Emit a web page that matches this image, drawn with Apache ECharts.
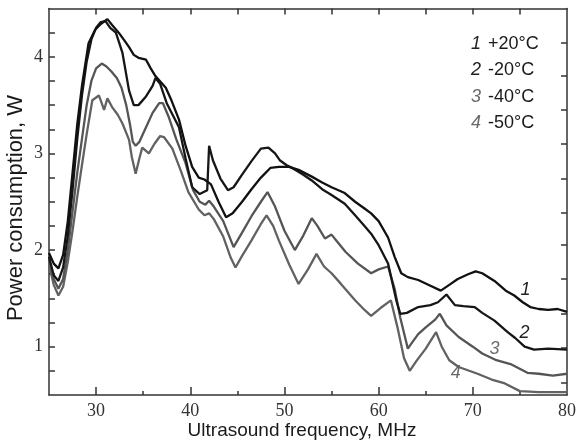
<!DOCTYPE html>
<html><head><meta charset="utf-8">
<script src="https://cdn.jsdelivr.net/npm/echarts@6/dist/echarts.min.js"></script>
<style>html,body{margin:0;padding:0;background:#fff}#c{width:579px;height:441px}</style>
</head><body><div id="c"></div>
<script>
// Tick labels / tick positions
const xLabels = [30, 40, 50, 60, 70, 80];
const xMajorTicks = [30, 40, 50, 60, 70];
const xMinorTicks = [35, 45, 55, 65, 75];
const xTopTicks = [30, 35, 40, 45, 50, 55, 60, 65, 70, 75];
const yLabels = [1, 2, 3, 4];
const yLeftTicks = [0.75, 1, 1.25, 1.5, 1.75, 2, 2.25, 2.5, 2.75, 3, 3.25, 3.5, 3.75, 4, 4.25];
const yRightTicks = [0.63, 0.99, 1.34, 1.70, 2.05, 2.39, 2.74, 3.10, 3.45, 3.80, 4.15];

// Titles, series names and legend
const xTitle = 'Ultrasound frequency, MHz';
const yTitle = 'Power consumption, W';
const seriesNums = ['1', '2', '3', '4'];
const seriesNames = ['+20°C', '-20°C', '-40°C', '-50°C'];

// Curves: [frequency MHz, power W]
const curve1 = [[25,1.97],[25.5,1.86],[26,1.81],[26.5,1.95],[27,2.3],[27.5,2.8],[28,3.3],[28.5,3.7],[29.2,4.14],[29.9,4.28],[30.5,4.34],[31.2,4.39],[31.7,4.33],[32.4,4.25],[33,4.17],[33.5,4.1],[34,4.02],[34.5,3.99],[35.3,3.97],[35.8,3.88],[36.3,3.8],[37.4,3.68],[38,3.55],[38.8,3.35],[39.5,3.08],[40.2,2.86],[40.9,2.75],[41.5,2.73],[42.2,2.68],[43,2.5],[43.8,2.34],[44.5,2.38],[45.5,2.5],[46.5,2.63],[47.5,2.75],[48.5,2.85],[49.4,2.86],[50.5,2.86],[51.5,2.83],[52.9,2.76],[54,2.7],[55,2.65],[56.4,2.59],[57.5,2.5],[58.5,2.43],[59.2,2.38],[60,2.3],[61,2.13],[61.7,1.93],[62.4,1.76],[63.1,1.72],[64.2,1.69],[65.5,1.63],[66.6,1.58],[67.5,1.64],[68.4,1.7],[69.5,1.75],[70.3,1.78],[71,1.76],[72.3,1.68],[73.5,1.58],[74.4,1.53],[75.3,1.46],[76.1,1.41],[77,1.39],[78,1.38],[79,1.39],[80,1.36]];
const curve2 = [[25,1.93],[25.5,1.74],[26,1.68],[26.5,1.82],[27,2.15],[27.5,2.62],[28,3.15],[28.5,3.6],[29,3.95],[29.5,4.18],[30,4.3],[30.5,4.36],[31,4.37],[31.5,4.3],[32.1,4.25],[32.8,4.04],[33.5,3.65],[34,3.5],[34.5,3.5],[35.3,3.59],[36,3.7],[36.3,3.78],[36.8,3.72],[37.5,3.52],[38.8,3.27],[39.5,2.95],[40.2,2.65],[41,2.58],[41.8,2.62],[42,3.08],[42.4,2.93],[43.2,2.74],[44,2.62],[44.6,2.65],[45.5,2.78],[46.5,2.92],[47.5,3.05],[48.3,3.06],[49,3.0],[49.5,2.93],[50.2,2.88],[51,2.84],[52,2.78],[52.9,2.72],[54,2.63],[55,2.57],[56.4,2.48],[57.5,2.36],[58.5,2.25],[59.2,2.17],[60,2.05],[61,1.86],[61.9,1.47],[62.3,1.34],[63,1.35],[64.2,1.41],[65.5,1.43],[66.3,1.46],[67.2,1.54],[68.1,1.43],[69,1.42],[70.2,1.41],[71,1.35],[72.3,1.27],[73.7,1.15],[74.5,1.09],[75.5,1.0],[76.5,0.97],[78,0.98],[80,0.97]];
const curve3 = [[25,1.9],[25.5,1.7],[26,1.6],[26.5,1.7],[27,2.0],[27.5,2.4],[28,2.8],[28.5,3.15],[29,3.5],[29.5,3.75],[30,3.88],[30.6,3.93],[31.1,3.9],[31.6,3.85],[32.2,3.78],[32.7,3.68],[33.2,3.5],[33.6,3.3],[33.9,3.12],[34.2,3.08],[34.6,3.12],[35.3,3.27],[36,3.42],[36.7,3.52],[37.1,3.52],[37.7,3.38],[38.5,3.15],[39.5,2.9],[40.3,2.62],[41,2.5],[41.6,2.47],[42,2.51],[42.5,2.45],[43.5,2.3],[44.6,2.03],[45.5,2.18],[46.5,2.35],[47.5,2.5],[48.2,2.6],[49,2.45],[50,2.2],[51.1,2.0],[52,2.15],[52.9,2.33],[53.5,2.25],[54.3,2.12],[55,2.16],[55.5,2.1],[56.5,1.98],[57.8,1.86],[59.2,1.76],[60,1.8],[61,1.83],[61.7,1.6],[62.3,1.3],[63.1,0.98],[63.6,1.05],[64.2,1.13],[65,1.2],[66,1.28],[66.5,1.34],[67.2,1.22],[68.5,1.1],[70,1.0],[71,0.93],[72.5,0.86],[74,0.82],[75.8,0.73],[77,0.72],[78.5,0.7],[80,0.72]];
const curve4 = [[25,1.85],[25.5,1.64],[26,1.53],[26.5,1.62],[27,1.88],[27.5,2.2],[28,2.55],[28.5,2.88],[29,3.2],[29.6,3.55],[30.3,3.6],[30.85,3.45],[31.2,3.57],[31.7,3.48],[32.3,3.4],[32.8,3.31],[33.5,3.14],[33.8,2.96],[34.2,2.79],[34.6,2.95],[34.9,3.06],[35.6,3.0],[36.2,3.1],[36.8,3.18],[37.2,3.17],[38.1,3.05],[39,2.82],[39.8,2.6],[40.9,2.42],[41.5,2.36],[42,2.38],[42.5,2.32],[43.5,2.14],[44.3,1.92],[44.8,1.82],[45.5,1.94],[46.5,2.1],[47.5,2.27],[48.1,2.36],[48.8,2.25],[49.4,2.1],[50.5,1.85],[51.5,1.65],[52.5,1.8],[53.4,1.96],[54.2,1.83],[55,1.76],[56,1.65],[57.5,1.48],[58.5,1.38],[59.2,1.32],[60.2,1.4],[61.3,1.48],[62,1.2],[62.7,0.88],[63.3,0.75],[64,0.85],[65,0.98],[66.1,1.15],[66.7,1.0],[67.5,0.86],[68.5,0.79],[70.5,0.72],[72,0.66],[73.4,0.62],[75,0.54],[77,0.53],[80,0.53]];

// Inline curve tags (data coordinates)
const tagFreq = [75.6, 75.5, 72.3, 68.2];
const tagPower = [1.59, 1.14, 0.98, 0.73];

const curves = [curve1, curve2, curve3, curve4];
const lineColors = ['#111111', '#161616', '#555555', '#626262'];
const numColors = ['#222222', '#222222', '#6a6a6a', '#6a6a6a'];

const axisColor = '#333';
const serif = '"Liberation Serif", "Times New Roman", serif';
const sans = '"Liberation Sans", Arial, sans-serif';

const chart = echarts.init(document.getElementById('c'), null, {renderer: 'canvas'});

const series = curves.map((d, i) => ({
  type: 'line',
  xAxisIndex: 0,
  yAxisIndex: 0,
  data: d,
  showSymbol: false,
  symbol: 'none',
  smooth: false,
  lineStyle: {color: lineColors[i], width: 2.3},
  z: 10 - i,
  silent: true,
  markPoint: {
    symbol: 'circle',
    symbolSize: 1,
    itemStyle: {color: 'rgba(0,0,0,0)'},
    label: {
      show: true, position: 'inside', formatter: seriesNums[i],
      fontStyle: 'italic', fontSize: 18, fontFamily: sans, color: numColors[i]
    },
    data: [{coord: [tagFreq[i], tagPower[i]]}]
  }
}));

const graphics = [];
seriesNums.forEach((n, i) => {
  const y = 44 + i * 26.3;
  graphics.push({
    type: 'text', x: 481, y: y, z: 100,
    style: {text: n, font: 'italic 18px ' + sans, fill: numColors[i], align: 'right', verticalAlign: 'middle'}
  });
  graphics.push({
    type: 'text', x: 488, y: y, z: 100,
    style: {text: seriesNames[i], font: '18px ' + sans, fill: '#1a1a1a', align: 'left', verticalAlign: 'middle'}
  });
});
graphics.push({
  type: 'text', x: 302, y: 431, z: 100,
  style: {text: xTitle, font: '19px ' + sans, fill: '#1a1a1a', align: 'center', verticalAlign: 'middle'}
});
graphics.push({
  type: 'text', x: 16, y: 208, rotation: Math.PI / 2, z: 100,
  style: {text: yTitle, font: '22px ' + sans, fill: '#1a1a1a', align: 'center', verticalAlign: 'middle'}
});

const option = {
  backgroundColor: '#ffffff',
  animation: false,
  grid: {left: 49, right: 9, top: 8.5, bottom: 46, containLabel: false},
  xAxis: [
    {
      type: 'value', min: 25, max: 80, position: 'bottom',
      axisLine: {show: true, onZero: false, lineStyle: {color: axisColor, width: 1.5}},
      axisTick: {show: true, inside: true, length: 8, customValues: xMajorTicks, lineStyle: {color: axisColor, width: 1.5}},
      axisLabel: {show: true, customValues: xLabels, fontFamily: serif, fontSize: 18, color: '#333', margin: 7},
      splitLine: {show: false}
    },
    {
      type: 'value', min: 25, max: 80, position: 'bottom',
      axisLine: {show: false, onZero: false},
      axisTick: {show: true, inside: true, length: 4, customValues: xMinorTicks, lineStyle: {color: axisColor, width: 1.5}},
      axisLabel: {show: false}, splitLine: {show: false}
    },
    {
      type: 'value', min: 25, max: 80, position: 'top',
      axisLine: {show: true, onZero: false, lineStyle: {color: axisColor, width: 1.5}},
      axisTick: {show: true, inside: true, length: 6, customValues: xTopTicks, lineStyle: {color: axisColor, width: 1.5}},
      axisLabel: {show: false}, splitLine: {show: false}
    }
  ],
  yAxis: [
    {
      type: 'value', min: 0.5, max: 4.5, position: 'left',
      axisLine: {show: true, onZero: false, lineStyle: {color: axisColor, width: 1.5}},
      axisTick: {show: true, inside: true, length: 6, customValues: yLeftTicks, lineStyle: {color: axisColor, width: 1.5}},
      axisLabel: {show: true, customValues: yLabels, fontFamily: serif, fontSize: 18, color: '#333', margin: 6},
      splitLine: {show: false}
    },
    {
      type: 'value', min: 0.5, max: 4.5, position: 'right',
      axisLine: {show: true, onZero: false, lineStyle: {color: axisColor, width: 1.5}},
      axisTick: {show: true, inside: true, length: 6, customValues: yRightTicks, lineStyle: {color: axisColor, width: 1.5}},
      axisLabel: {show: false}, splitLine: {show: false}
    }
  ],
  series: series,
  graphic: graphics
};
chart.setOption(option);
</script>
</body></html>
